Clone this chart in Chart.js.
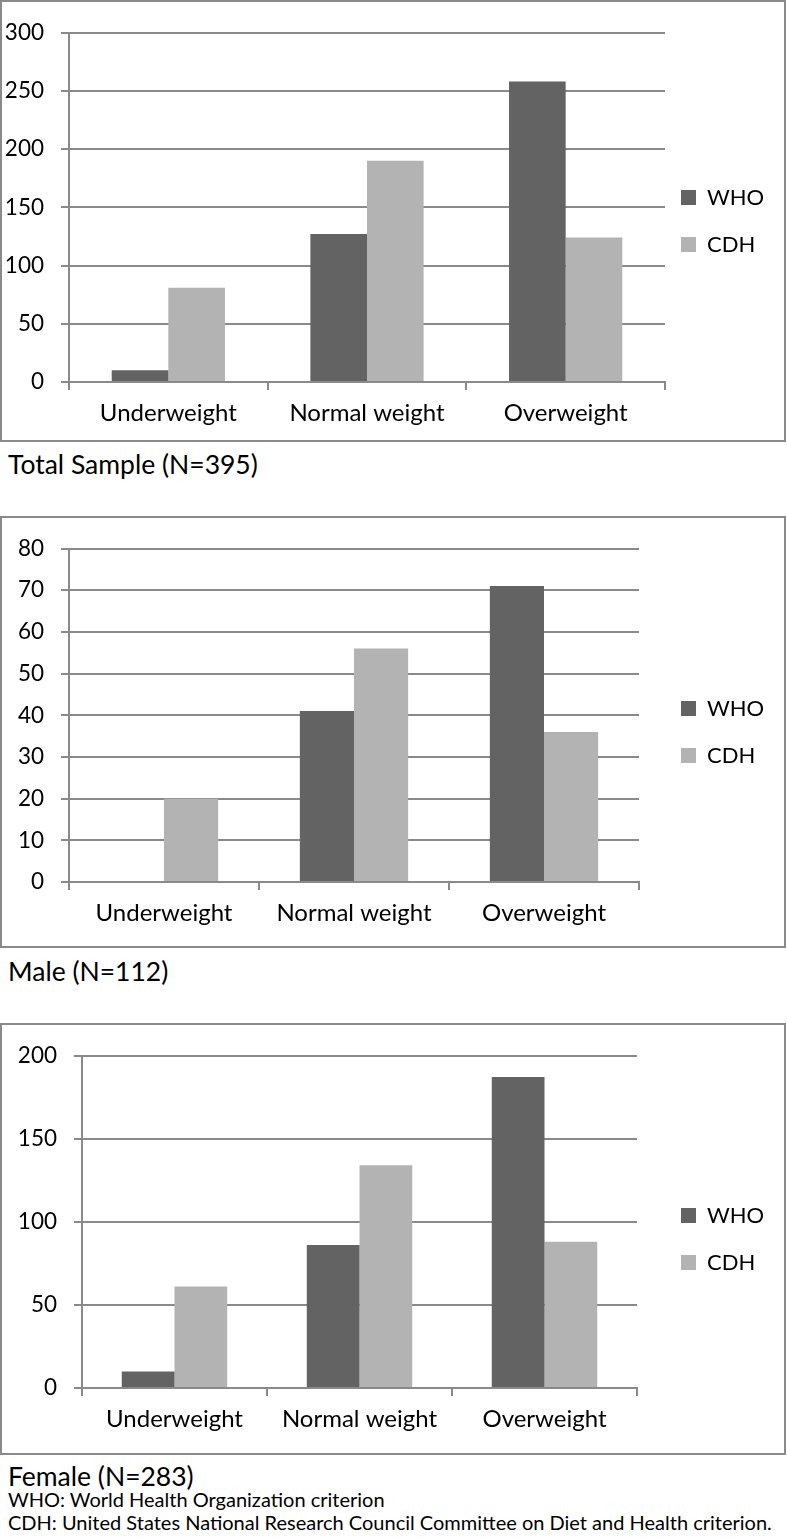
<!DOCTYPE html>
<html>
<head>
<meta charset="utf-8">
<script src="https://cdn.jsdelivr.net/npm/chart.js@4"></script>
<style>
  body { margin: 0; background: #fff; width: 787px; height: 1538px; position: relative; font-family: Lato, sans-serif; color: #000; }
  .panel { position: absolute; left: 0; width: 786px; box-sizing: border-box; border: 2px solid #8a8a8a; }
  .panel canvas { position: absolute; left: 0; top: 0; }
  .cap { position: absolute; left: 8px; white-space: nowrap; line-height: 1; }
  .big { font-size: 26.5px; }
  .note { font-size: 20px; }
</style>
</head>
<body>
<div class="panel" id="p1" style="top:0px;height:442px"><canvas id="c1" width="782" height="438"></canvas></div>
<div class="cap big" style="top:451px">Total Sample (N=395)</div>

<div class="panel" id="p2" style="top:516px;height:432px"><canvas id="c2" width="782" height="428"></canvas></div>
<div class="cap big" style="top:958px">Male (N=112)</div>

<div class="panel" id="p3" style="top:1023px;height:432px"><canvas id="c3" width="782" height="428"></canvas></div>
<div class="cap big" style="top:1463px">Female (N=283)</div>
<div class="cap note" style="top:1489px">WHO: World Health Organization criterion</div>
<div class="cap note" style="top:1512px">CDH: United States National Research Council Committee on Diet and Health criterion.</div>

<script>
var categories = ['Underweight', 'Normal weight', 'Overweight'];
var seriesNames = ['WHO', 'CDH'];

// counts per BMI group
var totalWHO = [10, 127, 258];
var totalCDH = [81, 190, 124];
var maleWHO = [0, 41, 71];
var maleCDH = [20, 56, 36];
var femaleWHO = [10, 86, 187];
var femaleCDH = [61, 134, 88];

var gridColor = '#8a8a8a';
var colorWHO = '#636363';
var colorCDH = '#b3b3b3';

Chart.defaults.font.family = 'Lato';
Chart.defaults.color = '#000';

// move the legend to a fixed x, centred on the whole panel height
var legendNudge = {
    id: 'legendNudge',
    beforeDraw: function(chart) {
        var lg = chart.legend;
        var pad = lg.options.labels.padding;
        lg.left = 679 - pad;
        lg.right = chart.width;
        lg.width = lg.right - lg.left;
        lg.top = 0;
        lg.bottom = chart.height;
        lg.height = chart.height;
    }
};

function makeChart(id, who, cdh, yMax, yStep, box) {
    // box: panel top, plot top, zero line, y axis x, plot right (all page pixels)
    var canvasTop = box.outer + 2;
    var ctx = document.getElementById(id);
    var h = ctx.height;
    return new Chart(ctx, {
        type: 'bar',
        data: {
            labels: categories,
            datasets: [{
                label: seriesNames[0],
                data: who,
                backgroundColor: colorWHO
            }, {
                label: seriesNames[1],
                data: cdh,
                backgroundColor: colorCDH
            }]
        },
        options: {
            responsive: false,
            animation: false,
            categoryPercentage: 0.57,
            barPercentage: 1,
            layout: {
                padding: { top: box.top - canvasTop, left: 0, bottom: 0, right: 782 - 20 - (box.right - 2) }
            },
            plugins: {
                legend: {
                    position: 'right',
                    maxWidth: 20,
                    labels: {
                        boxWidth: 15,
                        boxHeight: 15,
                        padding: 25,
                        font: { size: 22 },
                        color: '#000'
                    }
                },
                tooltip: { enabled: false }
            },
            scales: {
                x: {
                    grid: { offset: true, drawOnChartArea: false, tickLength: 8, color: gridColor, lineWidth: 2 },
                    border: { color: gridColor, width: 2 },
                    ticks: { font: { size: 24 }, color: '#000', padding: 9, maxRotation: 0, autoSkip: false },
                    afterFit: function(s) { s.height = h - (box.zero - canvasTop); }
                },
                y: {
                    min: 0,
                    max: yMax,
                    grid: { color: gridColor, lineWidth: 2, tickLength: 8 },
                    border: { color: gridColor, width: 2 },
                    ticks: { stepSize: yStep, font: { size: 22.5 }, color: '#000', padding: 17 },
                    afterFit: function(s) { s.width = box.axis - 2; }
                }
            }
        },
        plugins: [legendNudge]
    });
}

makeChart('c1', totalWHO, totalCDH, 300, 50, { outer: 0, top: 16, zero: 382, axis: 69, right: 665 });
makeChart('c2', maleWHO, maleCDH, 80, 10, { outer: 516, top: 546, zero: 882, axis: 69, right: 639 });
makeChart('c3', femaleWHO, femaleCDH, 200, 50, { outer: 1023, top: 1053, zero: 1388, axis: 82, right: 637 });
</script>
</body>
</html>
